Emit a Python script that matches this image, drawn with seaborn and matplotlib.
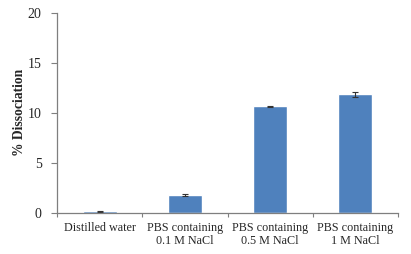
import numpy as np
import pandas as pd
import seaborn as sns
import matplotlib.pyplot as plt
import matplotlib.ticker as plticker

categories = ["Distilled water", "PBS containing\n0.1 M NaCl",
              "PBS containing\n0.5 M NaCl", "PBS containing\n1 M NaCl"]
dissociation = [0.15, 1.75, 10.65, 11.85]
errors = [0.05, 0.12, 0.05, 0.25]

sns.set_style("white")
plt.rcParams["font.family"] = ["Liberation Serif", "DejaVu Serif"]

df = pd.DataFrame({"condition": categories, "dissociation": dissociation})

fig = plt.figure(figsize=(4.11, 2.54), dpi=100)
ax = fig.add_axes([57 / 411, 1 - 212.7 / 254, 341 / 411, 199.7 / 254])
sns.barplot(data=df, x="condition", y="dissociation", color="#4F81BD",
            saturation=1, width=0.4, ax=ax, errorbar=None)
ax.errorbar(np.arange(len(categories)), dissociation, yerr=errors, fmt="none",
            ecolor="#333333", elinewidth=0.8, capsize=2.5, capthick=0.8)

ax.set_ylim(0, 20)
ax.set_xlim(-0.5, len(categories) - 0.5)
ax.yaxis.set_major_locator(plticker.MultipleLocator(base=5))
ax.tick_params(axis="y", labelsize=10, length=4, direction="out",
               color="#7f7f7f", left=True, pad=7)
# category labels in the middle, ticks at the boundaries
ax.set_xticks(np.arange(-0.5, len(categories)), minor=False)
ax.set_xticklabels([])
ax.set_xticks(np.arange(len(categories)), minor=True)
ax.set_xticklabels(categories, minor=True, fontsize=8.7, linespacing=1.05)
ax.tick_params(axis="x", which="major", length=3, direction="out",
               color="#7f7f7f", bottom=True)
ax.tick_params(axis="x", which="minor", length=0, pad=7)

ax.set_xlabel("")
ax.set_ylabel("% Dissociation", fontsize=9.8, fontweight="bold")
ax.yaxis.set_label_coords(-0.092, 0.5)
for side in ["top", "right"]:
    ax.spines[side].set_visible(False)
for side in ["left", "bottom"]:
    ax.spines[side].set_color("#7f7f7f")
    ax.spines[side].set_linewidth(0.9)

fig.savefig("out.png", dpi=100)
